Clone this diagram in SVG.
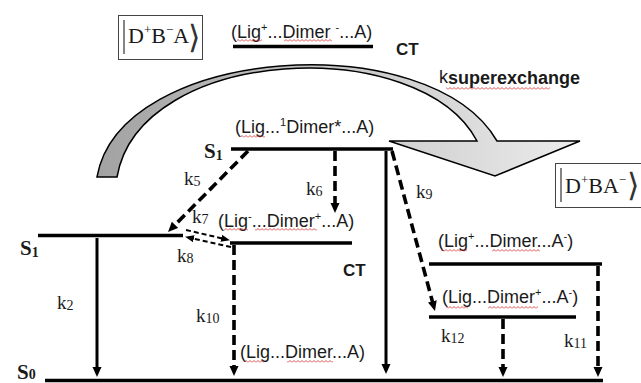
<svg xmlns="http://www.w3.org/2000/svg" width="641" height="383" viewBox="0 0 641 383">
  <style>
    .lvl { stroke: #000; stroke-width: 3.6; fill: none; }
    .solid { stroke: #000; stroke-width: 3; fill: none; marker-end: url(#ah); }
    .dash { stroke: #000; stroke-width: 3.6; fill: none; stroke-dasharray: 10 5; marker-end: url(#ah); }
    .dash-thin { stroke: #000; stroke-width: 2; fill: none; stroke-dasharray: 5 3; marker-end: url(#ahs); }
    .t { font-family: "Liberation Sans", Arial, sans-serif; font-size: 18px; fill: #1a1a1a; }
    .ct { font-family: "Liberation Sans", Arial, sans-serif; font-size: 17px; font-weight: bold; fill: #1a1a1a; }
    .k { font-family: "Liberation Serif", "Times New Roman", serif; font-size: 19px; fill: #1a1a1a; }
    .s { font-family: "Liberation Serif", "Times New Roman", serif; font-size: 21px; font-weight: bold; fill: #1a1a1a; }
    .ket { font-family: "Liberation Serif", "Times New Roman", serif; font-size: 22px; fill: #1a1a1a; }
    .delim { font-family: "DejaVu Sans", sans-serif; font-size: 32px; font-weight: 200; fill: #333; }
    .box { fill: #fff; stroke: #444; stroke-width: 1; }
    .wave { fill: url(#squiggle); }
  </style>
  <defs>
    <marker id="ah" markerUnits="userSpaceOnUse" markerWidth="10" markerHeight="10" viewBox="0 0 10 10" refX="4" refY="5" orient="auto">
      <path d="M0,0.5 L10,5 L0,9.5 z" fill="#000"/>
    </marker>
    <marker id="ahs" markerUnits="userSpaceOnUse" markerWidth="9" markerHeight="8" viewBox="0 0 9 8" refX="3" refY="4" orient="auto">
      <path d="M0,0.5 L9,4 L0,7.5 z" fill="#000"/>
    </marker>
    <linearGradient id="arcFill" gradientUnits="userSpaceOnUse" x1="97" y1="0" x2="580" y2="0">
      <stop offset="0" stop-color="#a2a2a2"/>
      <stop offset="1" stop-color="#ececec"/>
    </linearGradient>
    <!-- spell-check style wavy underline -->
    <pattern id="squiggle" patternUnits="userSpaceOnUse" width="4" height="3">
      <path d="M0,2.5 L2,0.5 L4,2.5" fill="none" stroke="#d42020" stroke-width="0.8"/>
    </pattern>
  </defs>

  <!-- ket boxes -->
  <g id="ket-DpBmA">
    <rect class="box" x="118.5" y="15.5" width="84" height="44"/>
    <line x1="124" y1="20" x2="124" y2="54" stroke="#333" stroke-width="1.2"/>
    <text class="ket" x="128" y="43">D<tspan font-size="13" dy="-9">+</tspan><tspan dy="9">B</tspan><tspan font-size="13" dy="-9">−</tspan><tspan dy="9">A</tspan></text>
    <text class="delim" x="188" y="48">⟩</text>
  </g>
  <g id="ket-DpBAm">
    <rect class="box" x="555.5" y="163.5" width="90" height="44"/>
    <line x1="561" y1="168" x2="561" y2="202" stroke="#333" stroke-width="1.2"/>
    <text class="ket" x="565" y="193">D<tspan font-size="13" dy="-9">+</tspan><tspan dy="9">BA</tspan><tspan font-size="13" dy="-9">−</tspan></text>
    <text class="delim" x="627" y="196">⟩</text>
  </g>

  <g id="connectors">
    <!-- superexchange arc -->
    <path id="superexchange" d="M97,177 C120,45 430,25 497,141 L580,141 L495,176 L389,141 L477,141 C420,33 140,45 117,177 Z" fill="url(#arcFill)" stroke="#000" stroke-width="1.5" stroke-linejoin="miter"/>
    <text class="t" x="439" y="83" font-size="19">k</text>
    <text class="t" x="448" y="84" font-size="14" font-weight="bold">superexchange</text>
    <rect class="wave" x="446" y="87" width="104" height="3"/>

    <!-- rate arrows -->
    <line class="dash" x1="248" y1="151" x2="172.2" y2="227.7"/>
    <line class="dash" x1="335" y1="151" x2="335" y2="207"/>
    <line class="solid" x1="386" y1="151" x2="386" y2="368"/>
    <line class="dash" x1="392" y1="151" x2="433.4" y2="305.2"/>
    <line class="dash-thin" x1="186" y1="230" x2="224.1" y2="238.9"/>
    <line class="dash-thin" x1="231" y1="247" x2="190.9" y2="238.1"/>
    <line class="solid" x1="97" y1="238" x2="97" y2="371"/>
    <line class="dash" x1="234" y1="245" x2="234" y2="370"/>
    <line class="dash" x1="503" y1="319" x2="503" y2="371"/>
    <line class="dash" x1="598" y1="266" x2="598" y2="371"/>

    <text class="k" x="184" y="185">k<tspan font-size="14" dy="1">5</tspan></text>
    <text class="k" x="306" y="195">k<tspan font-size="14" dy="1">6</tspan></text>
    <text class="k" x="192" y="223">k<tspan font-size="14" dy="1">7</tspan></text>
    <text class="k" x="177" y="262">k<tspan font-size="14" dy="1">8</tspan></text>
    <text class="k" x="416" y="198">k<tspan font-size="14" dy="1">9</tspan></text>
    <text class="k" x="57" y="309">k<tspan font-size="14" dy="1">2</tspan></text>
    <text class="k" x="196" y="322">k<tspan font-size="14" dy="1">10</tspan></text>
    <text class="k" x="441" y="342">k<tspan font-size="14" dy="1">12</tspan></text>
    <text class="k" x="564" y="347">k<tspan font-size="14" dy="1">11</tspan></text>
  </g>

  <!-- energy levels -->
  <g id="ct-top">
    <line class="lvl" x1="233" y1="46.5" x2="373" y2="46.5"/>
    <text class="t" x="231" y="38">(Lig<tspan font-size="11" dy="-7">+</tspan><tspan dy="7">...Dimer </tspan><tspan font-size="11" dy="-7">-</tspan><tspan dy="7">...A)</tspan></text>
    <rect class="wave" x="237" y="39" width="25" height="3"/>
    <rect class="wave" x="284" y="39" width="48" height="3"/>
    <text class="ct" x="396" y="55">CT</text>
  </g>

  <g id="s1-dimer">
    <line class="lvl" x1="231" y1="149" x2="393" y2="149"/>
    <text class="t" x="235" y="133">(Lig...<tspan font-size="11" dy="-7">1</tspan><tspan dy="7">Dimer*...A)</tspan></text>
    <rect class="wave" x="241" y="135" width="24" height="3"/>
    <text class="s" x="204" y="158">S<tspan font-size="14" dy="2">1</tspan></text>
  </g>

  <g id="s1-lig">
    <line class="lvl" x1="38" y1="235.5" x2="183" y2="235.5"/>
    <text class="s" x="20" y="255">S<tspan font-size="14" dy="2">1</tspan></text>
  </g>

  <g id="ct-mid">
    <line class="lvl" x1="230" y1="243" x2="352" y2="243"/>
    <text class="t" x="218" y="227">(Lig<tspan font-size="11" dy="-7">-</tspan><tspan dy="7">...Dimer</tspan><tspan font-size="11" dy="-7">+</tspan><tspan dy="7">...A)</tspan></text>
    <rect class="wave" x="224" y="228" width="24" height="3"/>
    <rect class="wave" x="255" y="228" width="62" height="3"/>
    <text class="ct" x="343" y="276">CT</text>
  </g>

  <g id="ct-right-upper">
    <line class="lvl" x1="429" y1="264" x2="602" y2="264"/>
    <text class="t" x="438" y="247">(Lig<tspan font-size="11" dy="-7">+</tspan><tspan dy="7">...Dimer...A</tspan><tspan font-size="11" dy="-7">-</tspan><tspan dy="7">)</tspan></text>
    <rect class="wave" x="441" y="249" width="26" height="3"/>
    <rect class="wave" x="492" y="249" width="48" height="3"/>
  </g>

  <g id="ct-right-lower">
    <line class="lvl" x1="429" y1="317" x2="576" y2="317"/>
    <text class="t" x="442" y="303">(Lig...Dimer<tspan font-size="11" dy="-7">+</tspan><tspan dy="7">...A</tspan><tspan font-size="11" dy="-7">-</tspan><tspan dy="7">)</tspan></text>
    <rect class="wave" x="446" y="306" width="22" height="3"/>
    <rect class="wave" x="488" y="306" width="50" height="3"/>
  </g>

  <g id="s0-ground">
    <line class="lvl" x1="45" y1="380.5" x2="603" y2="380.5" stroke-width="4"/>
    <text class="s" x="17" y="379">S<tspan font-size="14" dy="0">0</tspan></text>
    <text class="t" x="240" y="358">(Lig...Dimer...A)</text>
    <rect class="wave" x="245" y="360" width="19" height="3"/>
    <rect class="wave" x="287" y="360" width="46" height="3"/>
  </g>
</svg>
